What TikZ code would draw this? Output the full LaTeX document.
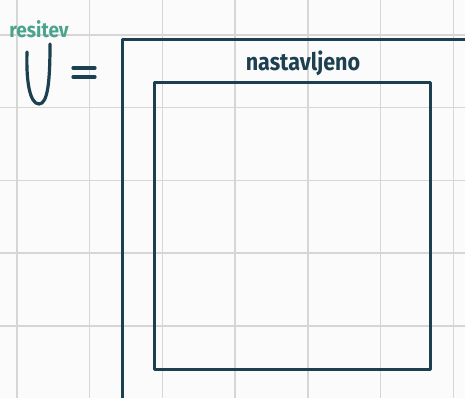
\documentclass[tikz,border=0pt]{standalone}
\usepackage{fontspec}
\setmainfont{Fira Sans}
\definecolor{ink}{HTML}{1C4050}
\definecolor{tealtxt}{HTML}{4CA38D}
\definecolor{gridc}{HTML}{D6D6D6}
\definecolor{bgc}{HTML}{FBFBFB}
\tikzset{
  gridline/.style={draw=gridc, line width=1.4pt},
  boxline/.style={draw=ink, line width=3pt, line join=round},
  hand/.style={draw=ink, line width=3.2pt, line cap=round},
}
\begin{document}
\begin{tikzpicture}[x=1pt,y=-1pt]
\useasboundingbox (0,0) rectangle (465,398);
\clip (0,0) rectangle (465,398);
\fill[bgc] (0,0) rectangle (465,398);
% grid
\foreach \i in {0,...,6} {
  \draw[gridline] ({17+72.7*\i},0) -- ({17+72.7*\i},398);
}
\foreach \i in {0,...,5} {
  \draw[gridline] (0,{35+72.7*\i}) -- (465,{35+72.7*\i});
}
% outer box (extends past right and bottom edge)
\node[boxline, rectangle, anchor=north west, minimum width=360pt, minimum height=370pt, inner sep=0pt] (outer) at (121,38) {};
% inner box
\node[boxline, rectangle, anchor=north west, minimum width=276pt, minimum height=287pt, inner sep=0pt] (inner) at (153,81) {};
% label
\node[text=ink, font=\fontsize{22}{22}\selectfont\bfseries, inner sep=0pt, yscale=1.1, xscale=0.98] (lab) at (303,63) {nastavljeno};
% handwritten union and equals
\coordinate (u1) at (27,52);
\coordinate (u2) at (50,44);
\draw[hand] (u1) .. controls (26,82) and (30,104) .. (39,104) .. controls (48,104) and (50,80) .. (u2);
\coordinate (e1) at (73,68);
\coordinate (e2) at (95,68);
\coordinate (e3) at (73,77);
\coordinate (e4) at (95,77);
\draw[hand] (e1) -- (e2);
\draw[hand] (e3) -- (e4);
\node[text=tealtxt, font=\fontsize{19}{19}\selectfont\bfseries, inner sep=0pt, yscale=1.1] (res) at (39,29) {resitev};
\end{tikzpicture}
\end{document}
